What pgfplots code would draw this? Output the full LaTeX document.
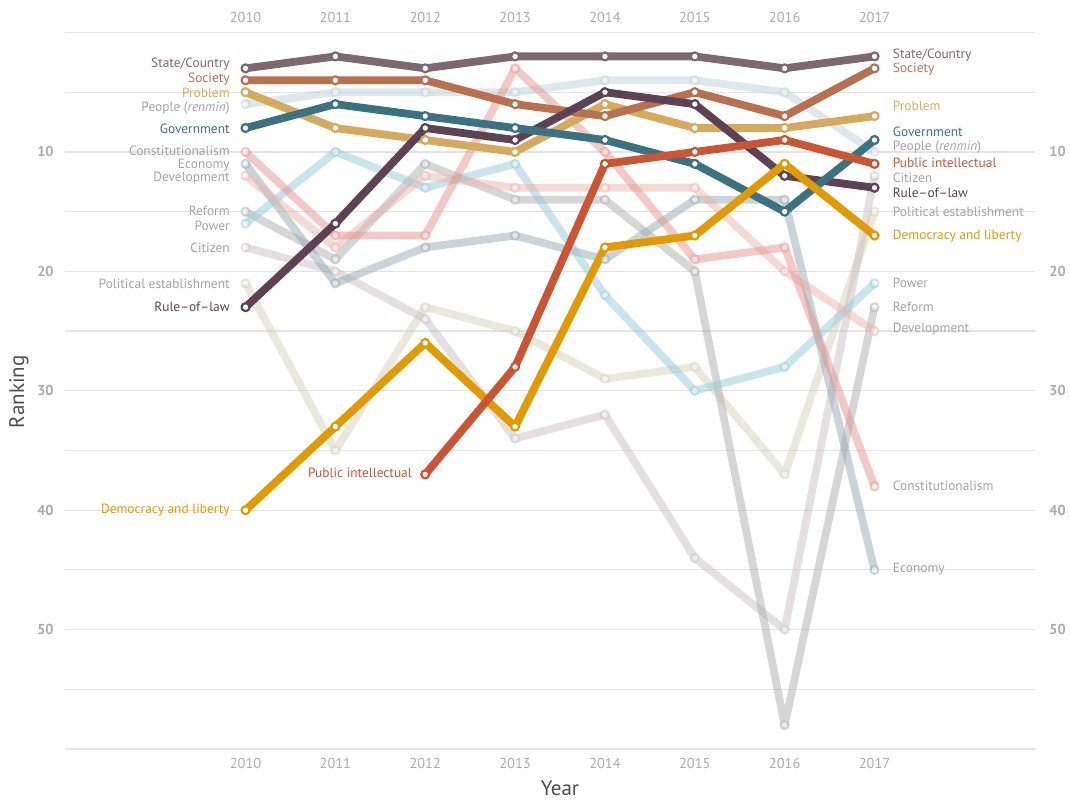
\documentclass[border=0pt]{standalone}
\usepackage{pgfplots}
\pgfplotsset{compat=1.18}
\usepackage{fontspec}
\setmainfont{PT Sans}

\definecolor{cstate}{HTML}{7E6870}
\definecolor{csoc}{HTML}{B8714F}
\definecolor{cprob}{HTML}{D5AA5C}
\definecolor{cgov}{HTML}{3A7282}
\definecolor{crule}{HTML}{5C4252}
\definecolor{cpub}{HTML}{CB5433}
\definecolor{cdem}{HTML}{E19A00}
\definecolor{cpeople}{RGB}{187,209,217}
\definecolor{cconst}{RGB}{229,147,139}
\definecolor{cdev}{RGB}{233,179,171}
\definecolor{cecon}{RGB}{145,169,177}
\definecolor{cref}{RGB}{173,173,173}
\definecolor{cpow}{RGB}{147,203,215}
\definecolor{ccit}{RGB}{203,191,195}
\definecolor{cpol}{RGB}{213,209,183}
\definecolor{labgray}{HTML}{A3A3A3}
\definecolor{tickgray}{HTML}{ABABAB}
\definecolor{titlegray}{HTML}{4D4D4D}

\pgfplotsset{
  hl/.style={color=#1, line width=3.9pt, line join=round, mark=*, mark size=2pt,
    mark options={fill=white, line width=1.1pt}},
  fd/.style={color=#1, opacity=0.5, line width=3.9pt, line join=round, mark=*, mark size=2pt,
    mark options={fill=white, line width=1.1pt}},
}
\tikzset{lab/.style={font=\fontsize{6.7}{8}\selectfont, inner sep=0pt},
  yr/.style={font=\fontsize{7.2}{8}\selectfont, inner sep=0pt}}

\begin{document}
\begin{tikzpicture}
\begin{axis}[
  at={(0,0)}, anchor=south west,
  scale only axis, width=485pt, height=358.25pt,
  xmin=2007.991, xmax=2018.786, ymin=0, ymax=60, y dir=reverse,
  axis line style={draw=none},
  xtick=\empty, ytick={0,5,...,60}, yticklabels={},
  major tick length=0pt,
  ymajorgrids, major grid style={draw=black!11, line width=0.6pt},
  clip=false,
]
% faded series
\addplot[fd=cpeople] coordinates {(2010,6) (2011,5) (2012,5) (2013,5) (2014,4) (2015,4) (2016,5) (2017,10)};
\addplot[fd=cpol] coordinates {(2010,21) (2011,35) (2012,23) (2013,25) (2014,29) (2015,28) (2016,37) (2017,15)};
\addplot[fd=ccit] coordinates {(2010,18) (2011,20) (2012,24) (2013,34) (2014,32) (2015,44) (2016,50) (2017,12)};
\addplot[fd=cref] coordinates {(2010,15) (2011,19) (2012,11) (2013,14) (2014,14) (2015,20) (2016,58) (2017,23)};
\addplot[fd=cecon] coordinates {(2010,11) (2011,21) (2012,18) (2013,17) (2014,19) (2015,14) (2016,14) (2017,45)};
\addplot[fd=cpow] coordinates {(2010,16) (2011,10) (2012,13) (2013,11) (2014,22) (2015,30) (2016,28) (2017,21)};
\addplot[fd=cdev] coordinates {(2010,12) (2011,18) (2012,12) (2013,13) (2014,13) (2015,13) (2016,20) (2017,25)};
\addplot[fd=cconst] coordinates {(2010,10) (2011,17) (2012,17) (2013,3) (2014,10) (2015,19) (2016,18) (2017,38)};
% highlighted series
\addplot[hl=cprob] coordinates {(2010,5) (2011,8) (2012,9) (2013,10) (2014,6) (2015,8) (2016,8) (2017,7)};
\addplot[hl=csoc] coordinates {(2010,4) (2011,4) (2012,4) (2013,6) (2014,7) (2015,5) (2016,7) (2017,3)};
\addplot[hl=cstate] coordinates {(2010,3) (2011,2) (2012,3) (2013,2) (2014,2) (2015,2) (2016,3) (2017,2)};
\addplot[hl=crule] coordinates {(2010,23) (2011,16) (2012,8) (2013,9) (2014,5) (2015,6) (2016,12) (2017,13)};
\addplot[hl=cgov] coordinates {(2010,8) (2011,6) (2012,7) (2013,8) (2014,9) (2015,11) (2016,15) (2017,9)};
\addplot[hl=cdem] coordinates {(2010,40) (2011,33) (2012,26) (2013,33) (2014,18) (2015,17) (2016,11) (2017,17)};
\addplot[hl=cpub] coordinates {(2012,37) (2013,28) (2014,11) (2015,10) (2016,9) (2017,11)};

% left labels
\node[lab, anchor=east, text=cstate] at (axis cs:2009.828,2.64) {State/Country};
\node[lab, anchor=east, text=csoc] at (axis cs:2009.828,3.89) {Society};
\node[lab, anchor=east, text=cprob] at (axis cs:2009.828,5.06) {Problem};
\node[lab, anchor=east, text=labgray] at (axis cs:2009.828,6.3) {People (\textit{renmin})};
\node[lab, anchor=east, text=cgov] at (axis cs:2009.828,8.08) {Government};
\node[lab, anchor=east, text=labgray] at (axis cs:2009.828,9.92) {Constitutionalism};
\node[lab, anchor=east, text=labgray] at (axis cs:2009.828,11.09) {Economy};
\node[lab, anchor=east, text=labgray] at (axis cs:2009.828,12.17) {Development};
\node[lab, anchor=east, text=labgray] at (axis cs:2009.828,14.94) {Reform};
\node[lab, anchor=east, text=labgray] at (axis cs:2009.828,16.19) {Power};
\node[lab, anchor=east, text=labgray] at (axis cs:2009.828,18.03) {Citizen};
\node[lab, anchor=east, text=labgray] at (axis cs:2009.828,21.04) {Political establishment};
\node[lab, anchor=east, text=crule] at (axis cs:2009.828,22.97) {Rule--of--law};
\node[lab, anchor=east, text=cdem] at (axis cs:2009.828,39.96) {Democracy and liberty};
\node[lab, anchor=east, text=cpub] at (axis cs:2011.855,36.87) {Public intellectual};

% right labels
\node[lab, anchor=west, text=cstate] at (axis cs:2017.2,1.88) {State/Country};
\node[lab, anchor=west, text=csoc] at (axis cs:2017.2,3.05) {Society};
\node[lab, anchor=west, text=cprob] at (axis cs:2017.2,6.15) {Problem};
\node[lab, anchor=west, text=cgov] at (axis cs:2017.2,8.33) {Government};
\node[lab, anchor=west, text=labgray] at (axis cs:2017.2,9.58) {People (\textit{renmin})};
\node[lab, anchor=west, text=cpub] at (axis cs:2017.2,10.92) {Public intellectual};
\node[lab, anchor=west, text=labgray] at (axis cs:2017.2,12.17) {Citizen};
\node[lab, anchor=west, text=crule] at (axis cs:2017.2,13.43) {Rule--of--law};
\node[lab, anchor=west, text=labgray] at (axis cs:2017.2,15.02) {Political establishment};
\node[lab, anchor=west, text=cdem] at (axis cs:2017.2,17.03) {Democracy and liberty};
\node[lab, anchor=west, text=labgray] at (axis cs:2017.2,20.96) {Power};
\node[lab, anchor=west, text=labgray] at (axis cs:2017.2,22.97) {Reform};
\node[lab, anchor=west, text=labgray] at (axis cs:2017.2,24.81) {Development};
\node[lab, anchor=west, text=labgray] at (axis cs:2017.2,37.95) {Constitutionalism};
\node[lab, anchor=west, text=labgray] at (axis cs:2017.2,44.9) {Economy};

% year labels, top and bottom
\pgfplotsinvokeforeach{2010,2011,2012,2013,2014,2015,2016,2017}{
  \node[yr, text=tickgray] at (axis cs:#1,-1.22) {#1};
  \node[yr, text=tickgray] at (axis cs:#1,61.2) {#1};
}
% ranking labels, left and right
\pgfplotsinvokeforeach{10,20,30,40,50}{
  \node[yr, anchor=east, text=tickgray, font=\fontsize{7.2}{8}\selectfont\bfseries, xshift=-5.5pt] at (axis cs:2007.991,#1) {#1};
  \node[yr, anchor=west, text=tickgray, font=\fontsize{7.2}{8}\selectfont\bfseries, xshift=7pt] at (axis cs:2018.786,#1) {#1};
}
% axis titles
\node[text=titlegray, font=\fontsize{10.5}{12}\selectfont, inner sep=0pt] at (axis cs:2013.5,63.3) {Year};
\node[text=titlegray, font=\fontsize{10.5}{12}\selectfont, inner sep=0pt, rotate=90, yshift=23pt] at (axis cs:2007.991,30.08) {Ranking};
\end{axis}
\pgfresetboundingbox
\path (-32.5pt,-25pt) rectangle (502.5pt,374.5pt);
\end{tikzpicture}
\end{document}
